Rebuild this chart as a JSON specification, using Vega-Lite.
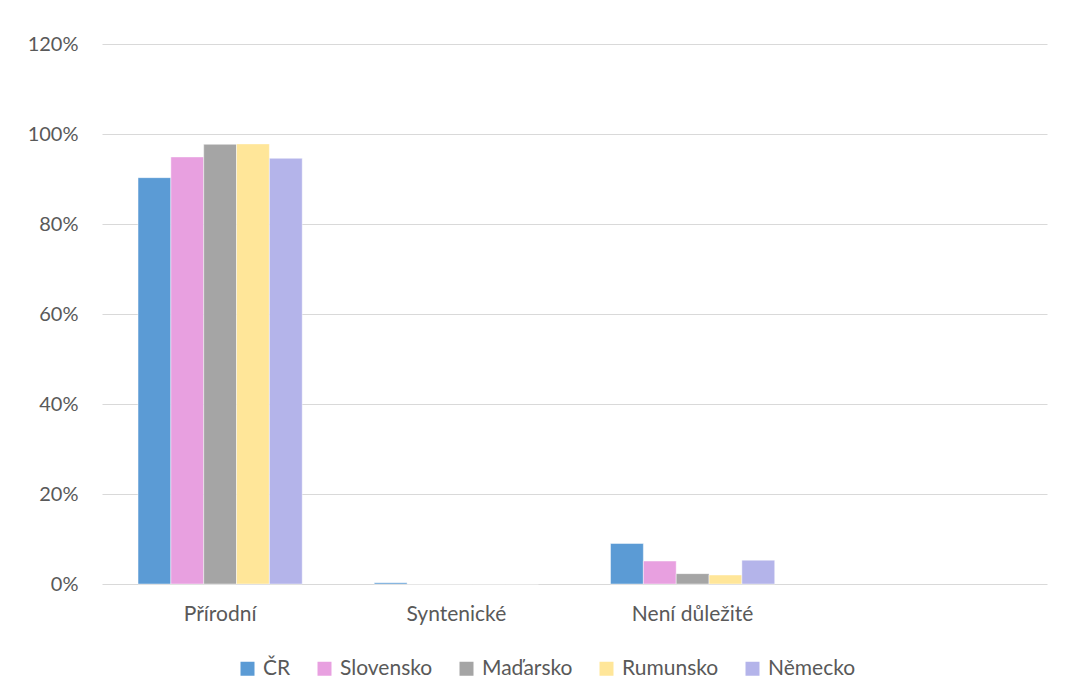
{
  "$schema": "https://vega.github.io/schema/vega-lite/v6.json",
  "width": 945,
  "height": 540,
  "autosize": {"type": "none"},
  "padding": {"left": 102, "top": 44, "right": 25, "bottom": 114},
  "background": "#ffffff",
  "data": {
    "values": [
      {"kategorie": "Přírodní", "zeme": "ČR", "podil": 0.903},
      {"kategorie": "Přírodní", "zeme": "Slovensko", "podil": 0.949},
      {"kategorie": "Přírodní", "zeme": "Maďarsko", "podil": 0.977},
      {"kategorie": "Přírodní", "zeme": "Rumunsko", "podil": 0.978},
      {"kategorie": "Přírodní", "zeme": "Německo", "podil": 0.946},
      {"kategorie": "Syntenické", "zeme": "ČR", "podil": 0.003},
      {"kategorie": "Syntenické", "zeme": "Slovensko", "podil": 0},
      {"kategorie": "Syntenické", "zeme": "Maďarsko", "podil": 0},
      {"kategorie": "Syntenické", "zeme": "Rumunsko", "podil": 0},
      {"kategorie": "Syntenické", "zeme": "Německo", "podil": 0},
      {"kategorie": "Není důležité", "zeme": "ČR", "podil": 0.09},
      {"kategorie": "Není důležité", "zeme": "Slovensko", "podil": 0.051},
      {"kategorie": "Není důležité", "zeme": "Maďarsko", "podil": 0.023},
      {"kategorie": "Není důležité", "zeme": "Rumunsko", "podil": 0.02},
      {"kategorie": "Není důležité", "zeme": "Německo", "podil": 0.053}
    ]
  },
  "mark": {"type": "bar", "stroke": "#ffffff", "strokeWidth": 0.75, "strokeOpacity": 0.6},
  "encoding": {
    "x": {
      "field": "kategorie",
      "type": "nominal",
      "scale": {"domain": ["Přírodní", "Syntenické", "Není důležité", " "], "paddingInner": 0.305, "paddingOuter": 0.1525},
      "axis": {
        "title": null,
        "labelAngle": 0,
        "ticks": false,
        "domain": false,
        "labelPadding": 19,
        "labelFont": "Lato",
        "labelFontSize": 21,
        "labelColor": "#595959"
      }
    },
    "xOffset": {
      "field": "zeme",
      "type": "nominal",
      "scale": {"domain": ["ČR", "Slovensko", "Maďarsko", "Rumunsko", "Německo"], "paddingInner": 0, "paddingOuter": 0}
    },
    "y": {
      "field": "podil",
      "type": "quantitative",
      "scale": {"domain": [0, 1.2], "nice": false},
      "axis": {
        "title": null,
        "format": ".0%",
        "values": [0, 0.2, 0.4, 0.6, 0.8, 1.0, 1.2],
        "ticks": false,
        "domain": false,
        "labelPadding": 24,
        "labelFont": "Lato",
        "labelFontSize": 20,
        "labelColor": "#595959",
        "gridColor": "#d9d9d9",
        "gridWidth": 1
      }
    },
    "color": {
      "field": "zeme",
      "type": "nominal",
      "scale": {
        "domain": ["ČR", "Slovensko", "Maďarsko", "Rumunsko", "Německo"],
        "range": ["#5b9bd5", "#e8a0e0", "#a5a5a5", "#ffe699", "#b4b4ea"]
      },
      "legend": {
        "title": null,
        "orient": "none",
        "direction": "horizontal",
        "legendX": 135,
        "legendY": 614,
        "symbolType": "square",
        "symbolSize": 196,
        "symbolStrokeWidth": 0,
        "labelFont": "Lato",
        "labelFontSize": 21,
        "labelColor": "#595959",
        "labelOffset": 5,
        "columnPadding": 23
      }
    }
  },
  "config": {
    "view": {"stroke": null}
  }
}
